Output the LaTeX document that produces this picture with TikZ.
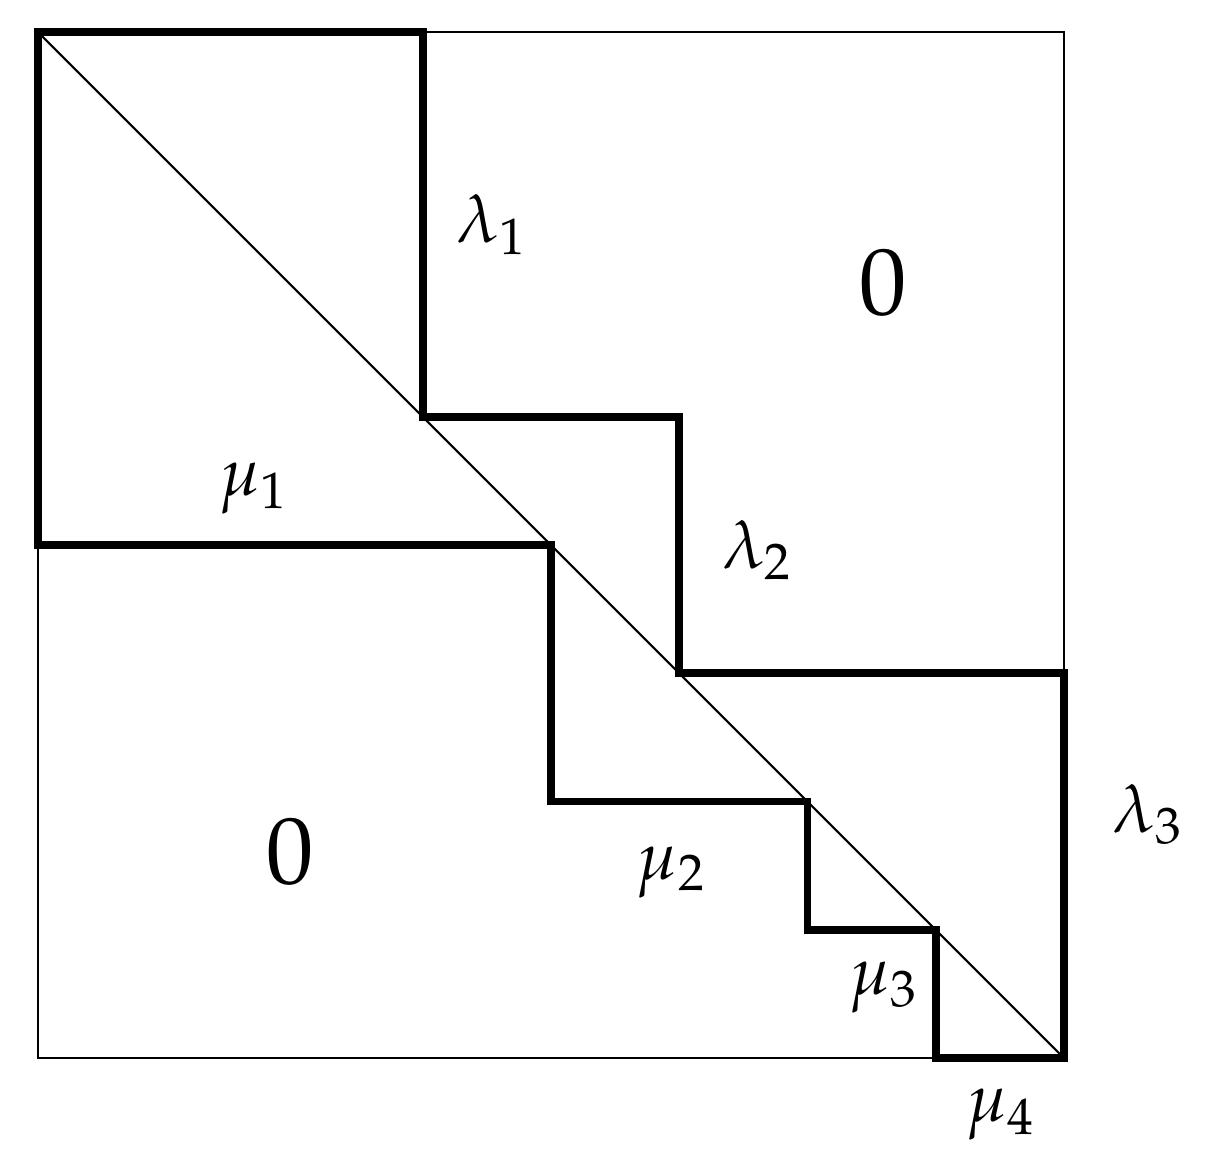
\documentclass[tikz,border=0pt]{standalone}
\usepackage{mathpazo}
\tikzset{
  thinline/.style={line width=0.45pt},
  thickline/.style={line width=1.7pt, line join=miter},
  lab/.style={inner sep=0pt, font=\fontsize{15}{18}\selectfont},
  zero/.style={inner sep=0pt, font=\fontsize{21}{25}\selectfont}
}
\begin{document}
\begin{tikzpicture}
\useasboundingbox (-0.296,-0.803) rectangle (9.123,8.25);
\coordinate (tl) at (0,8);
\coordinate (br) at (8,0);
\draw[thinline] (0,0) rectangle (8,8);
\draw[thinline] (tl) -- (br);
\draw[thickline] (3,8) -- (0,8) -- (0,4) -- (4,4) -- (4,2) -- (6,2) -- (6,1) -- (7,1) -- (7,0) -- (8,0) -- (8,3) -- (5,3) -- (5,5) -- (3,5) -- cycle;
\node[lab] (l1) at (3.54,6.50) {$\lambda_1$};
\node[lab] (l2) at (5.61,3.96) {$\lambda_2$};
\node[lab] (l3) at (8.655,1.90) {$\lambda_3$};
\node[lab] (m1) at (1.684,4.44) {$\mu_1$};
\node[lab] (m2) at (4.94,1.45) {$\mu_2$};
\node[lab] (m3) at (6.60,0.55) {$\mu_3$};
\node[lab] (m4) at (7.51,-0.44) {$\mu_4$};
\node[zero] (z1) at (6.59,6.04) {$0$};
\node[zero] (z2) at (1.965,1.606) {$0$};
\end{tikzpicture}
\end{document}
